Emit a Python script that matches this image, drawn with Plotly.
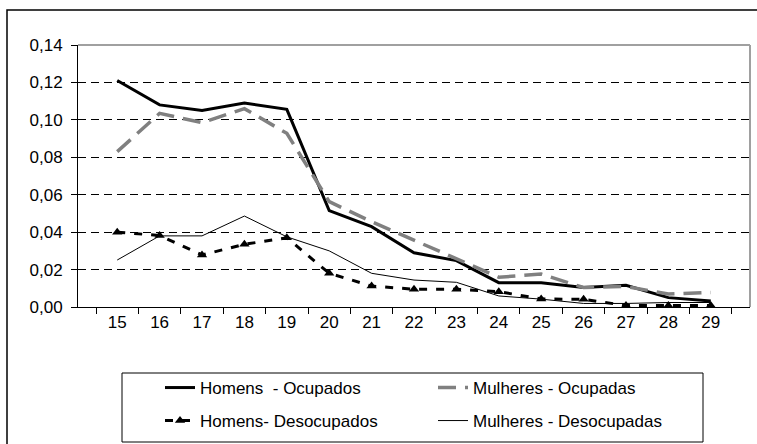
import plotly.graph_objects as go

# ages on the x axis
idades = [str(i) for i in range(15, 30)]

homensOcupados = [0.121, 0.108, 0.105, 0.109, 0.1056, 0.0515, 0.0429, 0.029, 0.0248,
                  0.013, 0.0129, 0.0104, 0.0116, 0.005, 0.0032]
mulheresOcupadas = [0.083, 0.1035, 0.0985, 0.106, 0.0928, 0.0563, 0.0456, 0.0358, 0.026,
                    0.0159, 0.0176, 0.0104, 0.011, 0.0069, 0.0078]
homensDesocupados = [0.040, 0.0382, 0.0278, 0.0335, 0.037, 0.018, 0.0112, 0.0095, 0.0095,
                     0.0082, 0.0043, 0.0041, 0.0008, 0.0008, 0.0008]
mulheresDesocupadas = [0.0251, 0.038, 0.038, 0.0486, 0.0375, 0.030, 0.018, 0.0144, 0.0132,
                       0.0059, 0.0042, 0.0019, 0.0019, 0.0024, 0.0024]

yTicks = [0, 0.02, 0.04, 0.06, 0.08, 0.10, 0.12, 0.14]

FONT = "Liberation Sans, Arial, sans-serif"
FSIZE = 17

traceHO = go.Scatter(x=idades, y=homensOcupados, mode="lines",
                     line=dict(color="black", width=3),
                     name="Homens  - Ocupados", legend="legend", showlegend=True)
traceMO = go.Scatter(x=idades, y=mulheresOcupadas, mode="lines",
                     line=dict(color="#808080", width=3.5, dash="18px,9px"),
                     name="Mulheres - Ocupadas", legend="legend2", showlegend=True)
traceHD = go.Scatter(x=idades, y=homensDesocupados, mode="lines+markers",
                     line=dict(color="black", width=3, dash="8px,9px"),
                     marker=dict(symbol="triangle-up", size=9, color="black"),
                     name="Homens- Desocupados", legend="legend3", showlegend=True)
traceMD = go.Scatter(x=idades, y=mulheresDesocupadas, mode="lines",
                     line=dict(color="black", width=1),
                     name="Mulheres - Desocupadas", legend="legend4", showlegend=True)

# plot area is 78..750 px wide, 45..307 px tall
def px(xp):
    return (xp - 78) / 672.0

def py(yp):
    return (307 - yp) / 262.0

def legendBox(xText, yMid):
    return dict(x=px(xText - 40), y=py(yMid), xanchor="left", yanchor="middle",
                font=dict(family=FONT, size=FSIZE), bgcolor="rgba(0,0,0,0)")

layout = go.Layout(
    width=757, height=444,
    margin=dict(l=78, r=7, t=45, b=137, autoexpand=False),
    paper_bgcolor="white", plot_bgcolor="white",
    font=dict(family=FONT, size=FSIZE, color="black"),
    separators=",.",
    showlegend=True,
    xaxis=dict(
        type="category",
        showline=True, linecolor="black", linewidth=1,
        showgrid=False, zeroline=False,
        ticks="outside", tickson="boundaries", ticklen=6, tickcolor="black",
        tickfont=dict(family=FONT, size=FSIZE),
    ),
    yaxis=dict(
        range=[0, 0.14],
        tickvals=yTicks, tickformat=".2f",
        showline=True, linecolor="black", linewidth=1,
        showgrid=True, gridcolor="black", gridwidth=1, griddash="8px,5px",
        zeroline=False,
        ticks="outside", ticklen=6, tickcolor="black", ticklabelstandoff=5,
        tickfont=dict(family=FONT, size=FSIZE),
    ),
    legend=legendBox(200, 388),
    legend2=legendBox(473, 388),
    legend3=legendBox(200, 421),
    legend4=legendBox(473, 421),
    shapes=[
        # grey border on top and right of plot area
        dict(type="line", xref="paper", yref="paper", x0=0, x1=1, y0=1, y1=1,
             line=dict(color="#a0a0a0", width=2)),
        dict(type="line", xref="paper", yref="paper", x0=1, x1=1, y0=0, y1=1,
             line=dict(color="#a0a0a0", width=2)),
        # legend box
        dict(type="rect", xref="paper", yref="paper",
             x0=px(122), x1=px(703), y0=py(442), y1=py(373),
             line=dict(color="black", width=1)),
        # outer chart frame
        dict(type="rect", xref="paper", yref="paper",
             x0=px(7), x1=px(765), y0=py(452), y1=py(10),
             line=dict(color="black", width=1.5)),
    ],
)

fig = go.Figure(data=[traceHO, traceMO, traceHD, traceMD], layout=layout)
fig.write_html("out.html", config={"displayModeBar": False},
               post_script="document.body.style.margin='0';document.body.style.overflow='hidden';")
